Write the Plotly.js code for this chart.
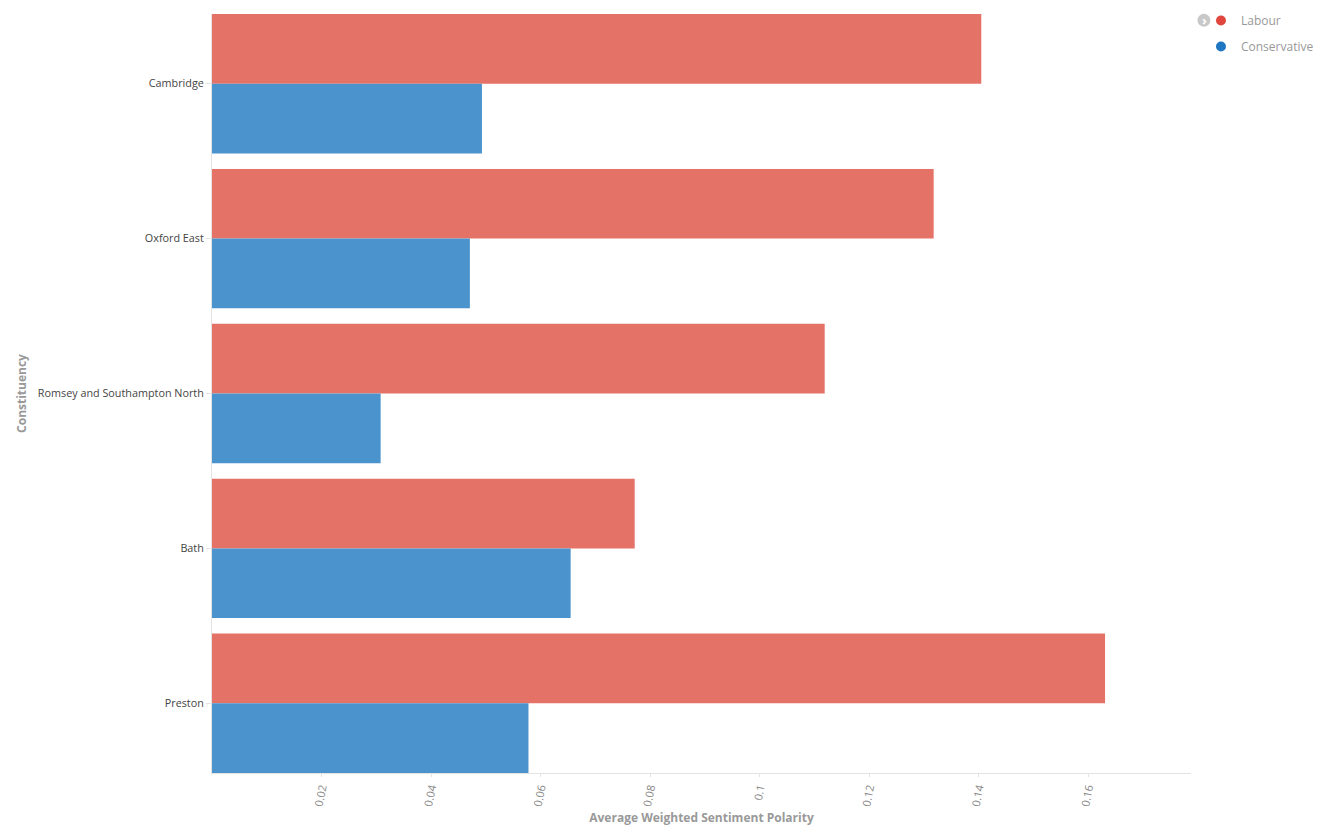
<!DOCTYPE html>
<html>
<head>
<meta charset="utf-8">
<script src="https://cdn.plot.ly/plotly-3.0.1.min.js"></script>
<style>html,body{margin:0;padding:0;background:#fff;}#chart{width:1325px;height:834px;}</style>
</head>
<body>
<div id="chart"></div>
<script>
const constituencies = ["Cambridge", "Oxford East", "Romsey and Southampton North", "Bath", "Preston"];
const labourValues = [0.1405, 0.1318, 0.1119, 0.0772, 0.1631];
const conservativeValues = [0.0493, 0.0471, 0.0308, 0.0655, 0.0578];
const seriesNames = ["Labour", "Conservative"];
const xTickValues = [0.02, 0.04, 0.06, 0.08, 0.1, 0.12, 0.14, 0.16];
const xTickLabels = ["0.02", "0.04", "0.06", "0.08", "0.1", "0.12", "0.14", "0.16"];

const barColors = ["#e57267", "#4b93cd"];
const dotColors = ["#e0463d", "#1f77c4"];

const traces = [
  {type: "bar", orientation: "h", name: seriesNames[0], y: constituencies, x: labourValues,
   marker: {color: barColors[0]}, showlegend: false, hoverinfo: "x+y+name"},
  {type: "bar", orientation: "h", name: seriesNames[1], y: constituencies, x: conservativeValues,
   marker: {color: barColors[1]}, showlegend: false, hoverinfo: "x+y+name"},
  {type: "scatter", mode: "markers", name: seriesNames[0], x: [null], y: [null], legendgroup: "a",
   marker: {color: dotColors[0], size: 10, symbol: "circle"}, showlegend: true},
  {type: "scatter", mode: "markers", name: seriesNames[1], x: [null], y: [null], legendgroup: "b",
   marker: {color: dotColors[1], size: 10, symbol: "circle"}, showlegend: true}
];

const layout = {
  width: 1325, height: 834,
  margin: {l: 212, r: 134, t: 14, b: 61, pad: 0, autoexpand: false},
  paper_bgcolor: "#fff", plot_bgcolor: "#fff",
  font: {family: "Open Sans, sans-serif", size: 11, color: "#444"},
  barmode: "group", bargap: 0.1, bargroupgap: 0,
  xaxis: {
    range: [0, 0.1788], tickvals: xTickValues, ticktext: xTickLabels,
    tickangle: -78, showgrid: false, zeroline: false,
    showline: true, linecolor: "#e3e3e3", linewidth: 1,
    ticks: "outside", ticklen: 3, tickcolor: "#e3e3e3",
    tickfont: {size: 11, color: "#888"},
    title: {text: "Average Weighted Sentiment Polarity", font: {size: 12, color: "#999", weight: "bold"}, standoff: 6}
  },
  yaxis: {
    type: "category", range: [4.45, -0.45], showgrid: false, zeroline: false,
    showline: true, linecolor: "#e3e3e3", linewidth: 1,
    ticks: "outside", ticklen: 5, tickcolor: "#e3e3e3",
    tickfont: {size: 10.8, color: "#444"},
    title: {text: "Constituency", font: {size: 12, color: "#999", weight: "bold"}, standoff: 8}
  },
  legend: {
    x: 1.0102, xanchor: "left", y: 1.0105, yanchor: "top",
    font: {size: 12, color: "#999"}, itemwidth: 30, tracegroupgap: 7,
    traceorder: "grouped", bgcolor: "rgba(0,0,0,0)"
  },
  shapes: [
    {type: "circle", xref: "paper", yref: "paper", x0: 1.0066, x1: 1.0198, y0: 1.0003, y1: 0.9832,
     fillcolor: "#c8c8c8", line: {width: 0}}
  ],
  annotations: [
    {xref: "paper", yref: "paper", x: 1.0134, y: 0.9918, text: "›", showarrow: false,
     font: {size: 13, color: "#fff", weight: "bold"}, xanchor: "center", yanchor: "middle"}
  ]
};

Plotly.newPlot("chart", traces, layout, {displayModeBar: false, responsive: false});
</script>
</body>
</html>
